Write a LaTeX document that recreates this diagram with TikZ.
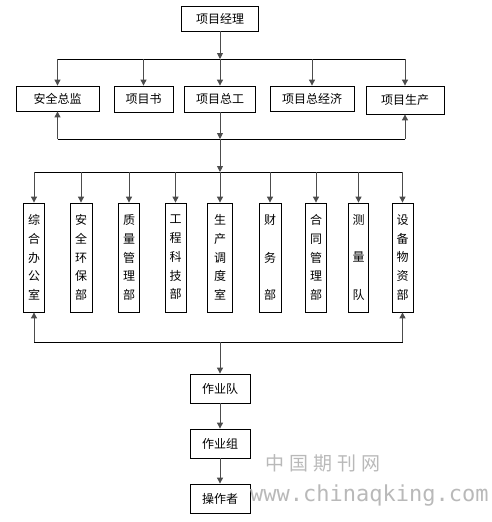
\documentclass[tikz,border=0pt]{standalone}
\usepackage{fontspec}
\setmainfont{Noto Sans CJK SC}
\newfontfamily\wmfont{DejaVu Sans Mono}
\usetikzlibrary{arrows.meta}
\tikzstyle{org-box} = [draw=black, line width=0.8pt, rectangle,
    inner sep=0pt, font=\fontsize{12}{14}\selectfont]
\tikzstyle{dept-box} = [org-box, minimum height=109pt, align=center,
    font=\fontsize{12}{18.7}\selectfont]
\tikzstyle{bus-line} = [draw=black, line width=0.8pt]
\tikzstyle{org-arrow} = [draw=black!70, line width=0.9pt,
    -{Triangle[length=6pt,width=6pt]}]
\tikzstyle{wm-text} = [text=gray!55, inner sep=0pt]

\begin{document}
\begin{tikzpicture}[x=1pt,y=-1pt]
\useasboundingbox (0,0) rectangle (491,522);
% top
\node[org-box, minimum width=77pt, minimum height=25pt] (pm) at (220,18.5) {项目经理};
% second level
\node[org-box, minimum width=83pt, minimum height=25pt] (aqzj) at (57.5,98.5) {安全总监};
\node[org-box, minimum width=59pt, minimum height=26pt] (xms) at (143.5,99) {项目书};
\node[org-box, minimum width=71pt, minimum height=26pt] (zg) at (220,99) {项目总工};
\node[org-box, minimum width=84pt, minimum height=25pt] (zjj) at (312,98.5) {项目总经济};
\node[org-box, minimum width=78pt, minimum height=28pt] (sc) at (405,100) {项目生产};
\coordinate (bus1) at (220,59);
\draw[org-arrow] (pm) -- (bus1);
\draw[bus-line] (bus1 -| aqzj) -- (bus1 -| sc);
\foreach \n in {aqzj,xms,zg,zjj,sc}
    \draw[org-arrow] (bus1 -| \n) -- (\n.north);
\coordinate (bus2) at (220,139);
\draw[org-arrow] (zg) -- (bus2);
\draw[bus-line] (bus2 -| aqzj) -- (bus2 -| sc);
\draw[org-arrow] (bus2 -| aqzj) -- (aqzj.south);
\draw[org-arrow] (bus2 -| sc) -- (sc.south);
% departments
\coordinate (bus3) at (220,172);
\draw[org-arrow] (bus2) -- (bus3);
\foreach \x/\w/\n/\t in {
    34/21/zhbgs/{综\\合\\办\\公\\室},
    81/22/aqhb/{安\\全\\环\\保\\部},
    129/21/zlgl/{质\\量\\管\\理\\部},
    175.5/21/gckj/{工\\程\\科\\技\\部},
    220/25/scdd/{生\\产\\调\\度\\室},
    270/22/cwb/{财\\\mbox{}\\务\\\mbox{}\\部},
    316/21/htgl/{合\\同\\管\\理\\部},
    358.5/20/cld/{测\\\mbox{}\\量\\\mbox{}\\队},
    402.5/21/sbwz/{设\\备\\物\\资\\部}}
    \node[dept-box, minimum width=\w pt] (\n) at (\x,257.5) {\t};
\draw[bus-line] (bus3 -| zhbgs) -- (bus3 -| sbwz);
\foreach \n in {zhbgs,aqhb,zlgl,gckj,scdd,cwb,htgl,cld,sbwz}
    \draw[org-arrow] (bus3 -| \n) -- (\n.north);
\coordinate (bus4) at (220,342);
\draw[bus-line] (bus4 -| zhbgs) -- (bus4 -| sbwz);
\draw[org-arrow] (bus4 -| zhbgs) -- (zhbgs.south);
\draw[org-arrow] (bus4 -| sbwz) -- (sbwz.south);
% work teams
\node[org-box, minimum width=60pt, minimum height=29pt] (zyd) at (220,388.5) {作业队};
\node[org-box, minimum width=60pt, minimum height=29pt] (zyz) at (220,443.5) {作业组};
\node[org-box, minimum width=60pt, minimum height=29pt] (czz) at (220,498.5) {操作者};
\draw[org-arrow] (bus4) -- (zyd);
\draw[org-arrow] (zyd) -- (zyz);
\draw[org-arrow] (zyz) -- (czz);
% watermark
\node[wm-text, font=\fontsize{19}{19}\selectfont] (wm-cn) at (323,463.5)
    {中\hspace{5pt}国\hspace{5pt}期\hspace{5pt}刊\hspace{5pt}网};
\node[wm-text, font=\wmfont\fontsize{22}{22}\selectfont, anchor=base west] (wm-url)
    at (250,501) {www.chinaqking.com};
\end{tikzpicture}
\end{document}
